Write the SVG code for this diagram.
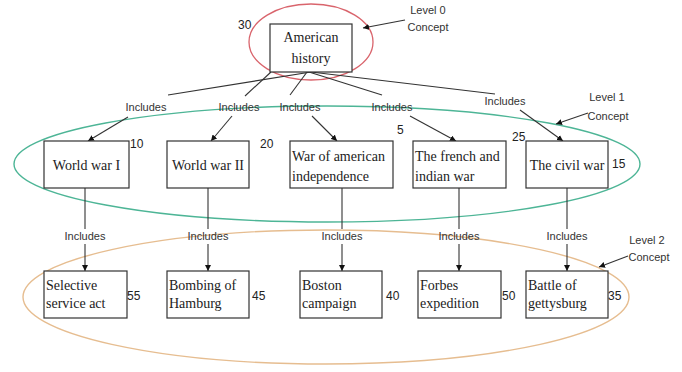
<svg xmlns="http://www.w3.org/2000/svg" width="682" height="372" viewBox="0 0 682 372">
<style>
.box{fill:#fff;stroke:#333;stroke-width:1.2}
.bt{font-family:"Liberation Serif","Times New Roman",serif;font-size:14px;fill:#222}
.lb{font-family:"Liberation Sans",Arial,sans-serif;font-size:11px;fill:#333}
.num{font-family:"Liberation Sans",Arial,sans-serif;font-size:12px;fill:#222}
.ln{stroke:#333;stroke-width:1.1;fill:none}
.ar{stroke:#333;stroke-width:1.1;fill:none;marker-end:url(#ah)}
</style>
<defs>
<marker id="ah" viewBox="0 0 10 10" refX="10" refY="5" markerWidth="6" markerHeight="6" orient="auto" markerUnits="userSpaceOnUse">
<path d="M0,0 L10,5 L0,10 z" fill="#111"/>
</marker>
</defs>
<rect width="682" height="372" fill="#fff"/>
<g id="levels">
<ellipse cx="311" cy="42" rx="62" ry="38" fill="none" stroke="#d9646c" stroke-width="1.3"/>
<ellipse cx="327" cy="164" rx="313" ry="58" fill="none" stroke="#4db596" stroke-width="1.4"/>
<ellipse cx="326" cy="297" rx="303" ry="67" fill="none" stroke="#e6bd90" stroke-width="1.4"/>
</g>
<g id="connectors">
<line class="ln" x1="311" y1="72" x2="168" y2="95"/>
<line class="ln" x1="271" y1="72" x2="245" y2="96"/>
<line class="ln" x1="307" y1="72" x2="290" y2="95"/>
<line class="ln" x1="309" y1="72" x2="382" y2="95"/>
<line class="ln" x1="311" y1="72" x2="495" y2="94"/>
<line class="ar" x1="128" y1="117" x2="88" y2="141"/>
<line class="ar" x1="232" y1="116" x2="211" y2="141"/>
<line class="ar" x1="312" y1="116" x2="337" y2="141"/>
<line class="ar" x1="410" y1="116" x2="456" y2="141"/>
<line class="ar" x1="520" y1="110" x2="563" y2="141"/>
<line class="ln" x1="85" y1="188" x2="85" y2="229"/>
<line class="ar" x1="85" y1="244" x2="85" y2="271"/>
<line class="ln" x1="208" y1="188" x2="208" y2="229"/>
<line class="ar" x1="208" y1="244" x2="208" y2="271"/>
<line class="ln" x1="342" y1="188" x2="342" y2="229"/>
<line class="ar" x1="342" y1="244" x2="342" y2="271"/>
<line class="ln" x1="459" y1="188" x2="459" y2="229"/>
<line class="ar" x1="459" y1="244" x2="459" y2="271"/>
<line class="ln" x1="567" y1="188" x2="567" y2="229"/>
<line class="ar" x1="567" y1="244" x2="567" y2="271"/>
<line class="ar" x1="405" y1="20" x2="363" y2="28"/>
<line class="ar" x1="588" y1="113" x2="556" y2="124"/>
<line class="ar" x1="628" y1="256" x2="599" y2="267"/>
</g>
<g id="labels">
<text class="lb" x="146" y="111" text-anchor="middle">Includes</text>
<text class="lb" x="239" y="111" text-anchor="middle">Includes</text>
<text class="lb" x="300" y="111" text-anchor="middle">Includes</text>
<text class="lb" x="392" y="111" text-anchor="middle">Includes</text>
<text class="lb" x="505" y="105" text-anchor="middle">Includes</text>
<text class="lb" x="85" y="240" text-anchor="middle">Includes</text>
<text class="lb" x="208" y="240" text-anchor="middle">Includes</text>
<text class="lb" x="342" y="240" text-anchor="middle">Includes</text>
<text class="lb" x="459" y="240" text-anchor="middle">Includes</text>
<text class="lb" x="567" y="240" text-anchor="middle">Includes</text>
<text class="lb" x="428" y="14" text-anchor="middle">Level 0</text>
<text class="lb" x="428" y="31" text-anchor="middle">Concept</text>
<text class="lb" x="607" y="101" text-anchor="middle">Level 1</text>
<text class="lb" x="608" y="120" text-anchor="middle">Concept</text>
<text class="lb" x="647" y="244" text-anchor="middle">Level 2</text>
<text class="lb" x="649" y="261" text-anchor="middle">Concept</text>
</g>
<g id="n-american-history">
<rect class="box" x="270" y="24" width="82" height="48"/>
<text class="bt" x="311" y="42" text-anchor="middle">American</text>
<text class="bt" x="311" y="63" text-anchor="middle">history</text>
<text class="num" x="238" y="29">30</text>
</g>
<g id="n-ww1">
<rect class="box" x="44" y="141" width="85" height="47"/>
<text class="bt" x="86.500" y="170" text-anchor="middle">World war I</text>
<text class="num" x="130" y="148">10</text>
</g>
<g id="n-ww2">
<rect class="box" x="167" y="141" width="82" height="47"/>
<text class="bt" x="208" y="170" text-anchor="middle">World war II</text>
<text class="num" x="260" y="148">20</text>
</g>
<g id="n-independence">
<rect class="box" x="290" y="141" width="103" height="47"/>
<text class="bt" x="292" y="161">War of american</text>
<text class="bt" x="292" y="181">independence</text>
<text class="num" x="397" y="134">5</text>
</g>
<g id="n-french-indian">
<rect class="box" x="413" y="141" width="93" height="47"/>
<text class="bt" x="415" y="161">The french and</text>
<text class="bt" x="415" y="181">indian war</text>
<text class="num" x="512" y="141">25</text>
</g>
<g id="n-civil-war">
<rect class="box" x="526" y="141" width="82" height="47"/>
<text class="bt" x="567" y="170" text-anchor="middle">The civil war</text>
<text class="num" x="612" y="168">15</text>
</g>
<g id="n-selective">
<rect class="box" x="44" y="271" width="83" height="47"/>
<text class="bt" x="46" y="290">Selective</text>
<text class="bt" x="46" y="308">service act</text>
<text class="num" x="127" y="300">55</text>
</g>
<g id="n-hamburg">
<rect class="box" x="167" y="271" width="82" height="47"/>
<text class="bt" x="169" y="290">Bombing of</text>
<text class="bt" x="169" y="308">Hamburg</text>
<text class="num" x="252" y="300">45</text>
</g>
<g id="n-boston">
<rect class="box" x="300" y="271" width="82" height="47"/>
<text class="bt" x="302" y="290">Boston</text>
<text class="bt" x="302" y="308">campaign</text>
<text class="num" x="386" y="300">40</text>
</g>
<g id="n-forbes">
<rect class="box" x="418" y="271" width="83" height="47"/>
<text class="bt" x="420" y="290">Forbes</text>
<text class="bt" x="420" y="308">expedition</text>
<text class="num" x="502" y="300">50</text>
</g>
<g id="n-gettysburg">
<rect class="box" x="526" y="271" width="82" height="47"/>
<text class="bt" x="528" y="290">Battle of</text>
<text class="bt" x="528" y="308">gettysburg</text>
<text class="num" x="608" y="300">35</text>
</g>
</svg>
